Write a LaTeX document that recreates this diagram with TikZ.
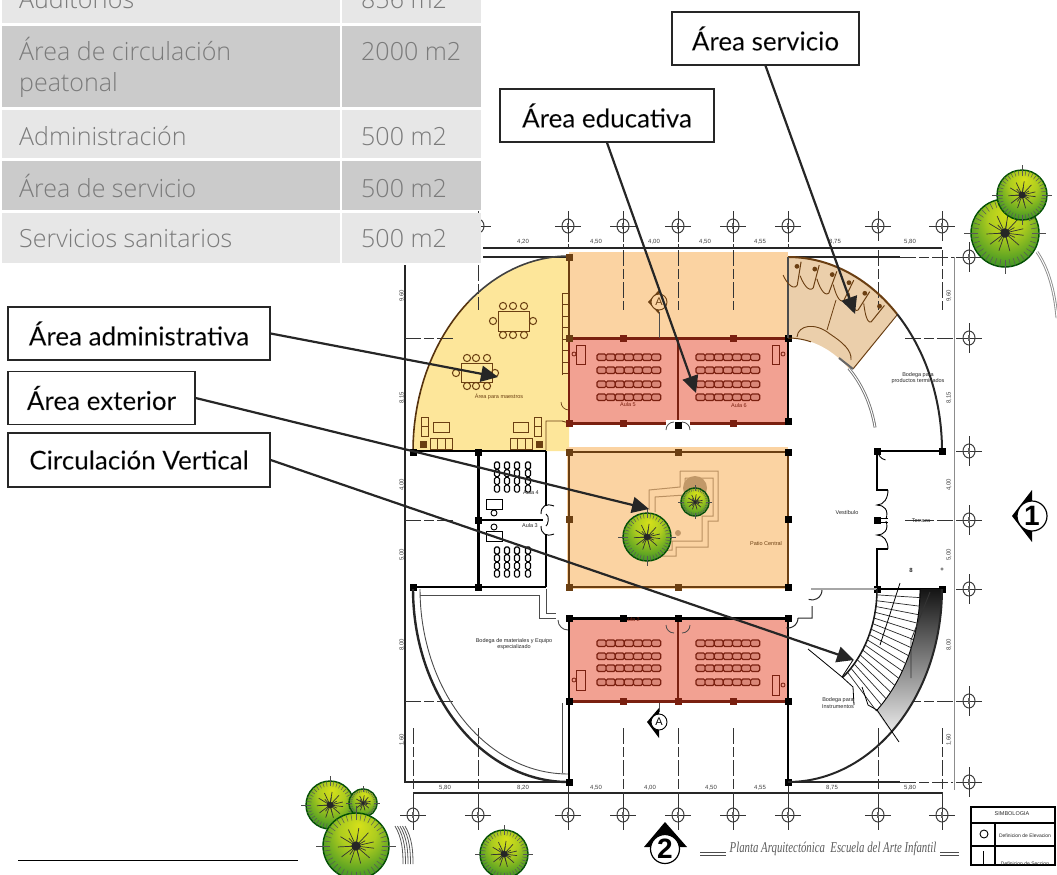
\documentclass[tikz,border=0pt]{standalone}
\usepackage{fontspec}
\usepackage{graphicx}
\usetikzlibrary{arrows.meta}
\setmainfont{Lato}
\newfontfamily\tabfont{Open Sans Light}
\newfontfamily\lblfont{Lato}[FakeBold=0.5]
\newfontfamily\planfont{Liberation Sans}
\newfontfamily\scriptf{Liberation Serif Italic}
\newcommand\halo{\special{pdf:code 0.5 G}}
\definecolor{tabA}{HTML}{E7E7E7}
\definecolor{tabB}{HTML}{CBCBCB}
\definecolor{tabT}{HTML}{7B7B7B}
\definecolor{orng}{HTML}{FBD3A2}
\definecolor{redr}{HTML}{F2A192}
\definecolor{ylw}{HTML}{FDE69A}
\definecolor{bge}{HTML}{EBCFAB}
\definecolor{dkred}{HTML}{7A2010}
\definecolor{brn}{HTML}{6B3F12}
\definecolor{ink}{HTML}{262626}
\pgfdeclareradialshading{treesh}{\pgfpoint{2bp}{16bp}}{rgb(0bp)=(.84,.88,.10);rgb(14bp)=(.68,.80,.12);rgb(28bp)=(.32,.62,.14);rgb(42bp)=(.06,.46,.18);rgb(50bp)=(.0,.34,.18)}
\newcommand\planttree[3]{\begin{scope}[shift={(#1,#2)}]
\shade[shading=treesh] (0,0) circle[radius=#3];
\draw[line width=1.4pt,color=black!55!green!70!black] (0,0) circle[radius=#3];
\foreach \a in {0,9,...,351}{\draw[line width=.5pt,black!65] (\a:{#3*.78}) -- (\a:{#3});}
\foreach \a in {7,41,...,360}{\draw[line width=.7pt,black!80] (\a:{#3*.1}) -- (\a:{#3*.55});}
\foreach \a in {24,75,...,360}{\draw[line width=.7pt,black!80] (\a:{#3*.1}) -- (\a:{#3*.32});}
\fill[black!85] (0,0) circle[radius={#3*.14}];
\foreach \a in {0,90,180,270}{\draw[line width=.6pt,black!70] (\a:{#3}) -- (\a:{#3*1.2});}
\end{scope}}
\newcommand\gridbub[2]{\draw[line width=.9pt,black!80] (#1-13,#2)--(#1+13,#2) (#1,#2-15)--(#1,#2+15);
\draw[line width=1pt,black!75] (#1,#2) ellipse[x radius=6,y radius=7];
\draw[line width=1.6pt,black!60] (#1,#2-3)--(#1,#2+3);}
\newcommand\csq[2]{\fill[black] (#1-3.5,#2-3.5) rectangle ++(7,7);}
\newcommand\bsq[2]{\fill[brn] (#1-3.5,#2-3.5) rectangle ++(7,7);}
\newcommand\rsq[2]{\fill[dkred] (#1-3.5,#2-3.5) rectangle ++(7,7);}
\newcommand\seatrow[2]{\foreach \i in {0,...,6}{\draw[seatb] ({#1+9.1*\i},#2-3) rectangle ++(9.1,6.5);}}
\newcommand\vseats[3]{\foreach \j in {#2,#3}{\foreach \k in {0,1,2,3}{\draw[seatk] (#1-2.5,{\j+7.7*\k}) rectangle ++(5,7);}}}
\tikzset{
 seatb/.style={draw=dkred,fill=redr!80!dkred,line width=1.2pt,rounded corners=1.5pt},
 seatk/.style={draw=black,fill=white,line width=1.1pt,rounded corners=1.5pt},
 wall/.style={line width=2.2pt,black},
 dimline/.style={line width=1.2pt,black!85},
 gridline/.style={line width=.9pt,black!80,dash pattern=on 16pt off 3pt on 10pt off 3pt},
 lbl/.style={draw=ink,line width=1.4pt,fill=white,inner sep=0pt,text=black,font=\lblfont\fontsize{26}{27}\selectfont},
 arr/.style={draw=ink,line width=2.2pt,-{Triangle[length=17pt,width=16pt]}},
 cell/.style={anchor=base west,inner sep=0pt,text=tabT,font=\tabfont\fontsize{25}{29}\selectfont},
 planlab/.style={inner sep=0pt,text=black!85,font=\planfont\fontsize{5.5}{6.5}\selectfont,align=center},
 dimlab/.style={inner sep=0pt,text=black!75,font=\planfont\fontsize{6}{6}\selectfont},
 furn/.style={draw=brn,line width=1pt,fill=none},
}
\begin{document}
\begin{tikzpicture}[x=1pt,y=-1pt]
\useasboundingbox (0,0) rectangle (1057,875);
% area colours
\fill[ylw] (569,257) -- plot[domain=-90:-180,samples=40] ({569+156*cos(\x)},{451+195*sin(\x)}) -- (569,451) -- cycle;
\fill[orng] (569,252) rectangle (788,338);
\fill[redr] (569,338) rectangle (788,423);
\fill[orng] (567,447) rectangle (788,589);
\fill[redr] (569,618) rectangle (788,703);
\fill[bge] (788,257) -- plot[domain=-90:-45,samples=30] ({788+154*cos(\x)},{451+194*sin(\x)}) -- (853,369) -- plot[domain=-47:-90,samples=30] ({788+89*cos(\x)},{451+113*sin(\x)}) -- cycle;
% grid lines
\foreach \gx in {568,623,678,733,788,878,942}{\gridbub{\gx}{226}}
\gridbub{478}{226}
\foreach \gx in {413,478,568,623,678,733,788,878,942}{\gridbub{\gx}{815}}
\foreach \gy in {257,338,451,520,589,701,782}{\gridbub{969}{\gy}}
\draw[dimline] (483,248) -- (942,248);
\draw[dimline] (483,257) -- (569,257);
\draw[dimline] (788,257) -- (900,257);
\draw[gridline] (900,257) -- (955,257);
\draw[line width=1pt,black!45] (954,257) -- (954,790);
\draw[dimline] (405,265) -- (405,782) -- (568,782);
\draw[dimline] (788,782) -- (900,782);
\draw[gridline] (900,782) -- (953,782);
\draw[dimline] (413,793) -- (942,793);
\foreach \gx in {623,678,733,878,942}{\draw[gridline] (\gx,250) -- (\gx,310);}
\draw[gridline] (478,265) -- (478,310);
\foreach \gx in {413,478,623,678,733,878,942}{\draw[gridline] (\gx,728) -- (\gx,808);}
\draw[gridline] (568,785) -- (568,808);
\draw[gridline] (788,785) -- (788,808);
\foreach \gx in {568,623,678,733,788}{\draw[line width=.9pt,black!80,dash pattern=on 4pt off 2pt] (\gx,248) -- (\gx,214);}
\foreach \gy in {338,520,701}{\draw[gridline] (405,\gy) -- (453,\gy); \draw[gridline] (905,\gy) -- (953,\gy);}
% dims
\foreach \tx/\tt in {523/{4,20},596/{4,50},654/{4,00},705/{4,50},760/{4,55},835/{8,75},910/{5,80}}{\node[dimlab] at (\tx,242) {\tt};}
\foreach \tx/\tt in {445/{5,80},523/{8,20},596/{4,50},650/{4,00},711/{4,50},760/{4,55},832/{8,75},910/{5,80}}{\node[dimlab] at (\tx,788) {\tt};}
\foreach \ty/\tt in {296/{9,60},398/{8,15},485/{4,00},555/{5,00},645/{8,00},740/{1,60}}{\node[dimlab,rotate=90] at (402,\ty) {\tt};\node[dimlab,rotate=90] at (949,\ty) {\tt};}
% yellow room
\draw[line width=1.6pt,black!75] plot[domain=-90:-130,samples=20] ({569+156*cos(\x)},{451+195*sin(\x)});
\draw[line width=1.6pt,brn!80!black] plot[domain=-130:-180,samples=20] ({569+156*cos(\x)},{451+195*sin(\x)});
\draw[line width=1.8pt,brn] (569,257) -- (569,338);
\foreach \j in {0,1,...,7}{\draw[line width=.7pt,brn] (562,{293+11.5*\j}) -- (568,{293+11.5*\j});}
\draw[line width=.7pt,brn] (562,293) -- (562,375);
\draw[furn] (498,311) rectangle (529,331);
\foreach \a in {503,513,524}{\draw[furn] (\a,306) circle[radius=3.6]; \draw[furn] (\a,335) circle[radius=3.6];}
\draw[furn] (493,321) circle[radius=3.6];\draw[furn] (533,321) circle[radius=3.6];
\draw[furn] (461,363) rectangle (492,382);
\foreach \a in {467,476,487}{\draw[furn] (\a,358) circle[radius=3.6]; \draw[furn] (\a,386) circle[radius=3.6];}
\draw[furn] (456,373) circle[radius=3.6];\draw[furn] (495,373) circle[radius=3.6];
\draw[furn] (433,422) rectangle (449,432);\draw[furn] (513,422) rectangle (528,432);
\draw[furn] (430,438) rectangle (452,449);\draw[furn] (510,438) rectangle (532,449);
\foreach \a in {437,445,517,525}{\draw[furn] (\a,438) -- (\a,449);}
\draw[furn] (421,417) rectangle (428,436);\draw[furn] (534,417) rectangle (541,436);
\draw[furn] (421,426) -- (428,426) (534,426) -- (541,426);
\bsq{423}{444}\bsq{539}{444}
\draw[line width=.9pt,brn] (546,450) -- (546,421) -- (562,421) -- (569,423);
\draw[line width=.7pt,brn] (569,410) arc[start angle=90,end angle=180,radius=8];
\node[planlab,text=brn] (lmaes) at (499,397) {Área para maestros};
% classroom walls
\draw[line width=3pt,dkred] (569,338) -- (788,338);
\draw[line width=3pt,dkred] (569,423) -- (788,423);
\draw[line width=1.8pt,dkred] (569,338) -- (569,423);
\draw[line width=1.6pt,dkred] (678,338) -- (678,423);
\draw[wall] (788,338) -- (788,423);
\seatrow{597}{357}\seatrow{597}{370}\seatrow{597}{384}\seatrow{597}{397}
\seatrow{696}{357}\seatrow{696}{370}\seatrow{696}{384}\seatrow{696}{397}
\draw[line width=.8pt,dkred] (576,345) rectangle (585,364);\draw[line width=.8pt,dkred] (574,354) circle[radius=2];
\draw[line width=.8pt,dkred] (772,345) rectangle (779,364);\draw[line width=.8pt,dkred] (783,354) circle[radius=2];
\node[planlab,text=dkred] (lau5) at (628,405) {Aula 5};
\node[planlab,text=dkred] (lau6) at (739,406) {Aula 6};
\fill[white] (666,420) rectangle (690,425);
\draw[line width=.8pt,black!70] (666,430) arc[start angle=180,end angle=270,radius=8] (690,430) arc[start angle=0,end angle=-90,radius=8];
\foreach \p/\q in {623/338,733/338,569/423,623/423,733/423}{\rsq{\p}{\q}}
\csq{678}{425}\csq{788}{338}\csq{788}{421}\bsq{569}{257}\bsq{569}{338}
\draw[line width=1.2pt,brn] (569,452) rectangle (788,587);
\foreach \p/\q in {569/452,678/452,569/519,569/587,678/587}{\bsq{\p}{\q}}
\csq{788}{452}\csq{788}{519}\csq{788}{587}
% patio stepped beds
\draw[line width=1pt,brn!45!orng] (680,471) -- (718,471) -- (718,521) -- (708,521) -- (708,547) -- (676,547) -- (676,556) -- (660,556) (680,471) -- (680,487) -- (649,490) -- (649,510);
\draw[line width=1pt,brn!45!orng] (685,478) -- (713,478) -- (713,516) -- (702,516) -- (702,541) -- (672,541) -- (672,550) -- (660,550) (685,478) -- (685,495) -- (655,497) -- (655,512);
\fill[brn!40!orng] (695,488) circle[radius=12];
\fill[brn!40!orng] (678,533) circle[radius=3];
\node[planlab,text=brn] (lpat) at (766,544) {Patio Central};
% left rooms
\draw[wall] (413,451) -- (546,451);
\draw[line width=3pt] (478,451) -- (478,587);
\draw[line width=2.4pt] (478,520) -- (546,520);
\draw[wall] (546,451) -- (546,505);\draw[wall] (546,535) -- (546,587);
\draw[wall] (413,587) -- (546,587);
\vseats{497}{462}{547}\vseats{507}{462}{547}\vseats{517}{462}{547}\vseats{528}{462}{547}
\draw[line width=.9pt] (486,499) rectangle (502,509);\draw[line width=.9pt] (486,531) rectangle (502,541);
\draw[line width=.9pt] (494,513) circle[radius=3];\draw[line width=.9pt] (494,527) circle[radius=3];
\node[planlab] (lau4) at (531,493) {Aula 4};
\node[planlab] (lau3) at (530,526) {Aula 3};
\fill[white] (543,506) rectangle (549,533);
\draw[line width=.9pt] (541,514) .. controls (541,506) and (546,503) .. (554,506);
\draw[line width=.9pt] (541,526) .. controls (541,534) and (546,537) .. (554,534);
\draw[line width=.9pt] (546,514) .. controls (550,516) and (548,525) .. (546,526);
\csq{413}{452}\csq{478}{452}\csq{478}{520}\csq{413}{587}\csq{478}{587}
% materials store
\draw[line width=2.4pt,black!85] plot[domain=180:90,samples=50] ({568+155*cos(\x)},{589+193*sin(\x)});
\draw[line width=.9pt,black!70] plot[domain=180:90,samples=50] ({568+148*cos(\x)},{589+185*sin(\x)});
\draw[line width=.9pt,black!70] (420,595) -- (539,595) -- (539,618) -- (556,618);
\draw[line width=.9pt,black!70] (546,589) -- (546,613) -- (556,613);
\draw[line width=.9pt,black!70] (568,630) arc[start angle=90,end angle=180,radius=10];
\node[planlab] (lmat) at (514,644) {Bodega de materiales y Equipo\\especializado};
% lower classrooms
\draw[line width=3pt] (569,618) -- (788,618);
\draw[line width=3pt,dkred] (569,701) -- (788,701);
\draw[line width=1.6pt,dkred] (678,618) -- (678,701);
\draw[wall] (569,618) -- (569,782);
\draw[wall] (788,618) -- (788,782);
\draw[line width=.9pt,black!70] (562,703) -- (562,773);
\seatrow{597}{643}\seatrow{597}{656}\seatrow{597}{668}\seatrow{597}{682}
\seatrow{696}{643}\seatrow{696}{656}\seatrow{696}{668}\seatrow{696}{682}
\draw[line width=.8pt,dkred] (576,670) rectangle (585,690);\draw[line width=.8pt,dkred] (574,680) circle[radius=2];
\draw[line width=.8pt,dkred] (772,675) rectangle (779,695);\draw[line width=.8pt,dkred] (783,685) circle[radius=2];
\node[planlab,text=dkred] (lau2) at (632,620) {Aula 2};
\draw[line width=.8pt,black!70] (666,625) arc[start angle=180,end angle=90,radius=8] (690,625) arc[start angle=0,end angle=90,radius=8];
\draw[line width=.7pt,black!70] (659,338) -- (659,312) (659,703) -- (659,712);
\foreach \p/\q in {623/701,678/701,733/701}{\rsq{\p}{\q}}
\csq{569}{701}\csq{788}{701}\csq{569}{618}\csq{623}{618}\csq{678}{618}\csq{788}{618}\csq{569}{782}\csq{788}{782}
% right arcs
\draw[line width=2pt,black!85] plot[domain=-45:0,samples=30] ({788+154*cos(\x)},{451+194*sin(\x)});
\draw[line width=.9pt,black!55,double=white,double distance=1pt] plot[domain=-47:-12,samples=25] ({788+89*cos(\x)},{451+113*sin(\x)});
\draw[line width=2pt,brn] plot[domain=-90:-45,samples=30] ({788+154*cos(\x)},{451+194*sin(\x)});
\draw[line width=1pt,brn] (897,315) -- (853,369);
\draw[line width=2pt,black!60] (839,358) -- (853,369);
\draw[line width=1pt,brn] plot[domain=-90:-75,samples=8] ({788+89*cos(\x)},{451+113*sin(\x)});
\draw[line width=1.3pt,black!70] (788,257) -- (788,338);
% fan of seats
\foreach \a in {-85,-78,...,-50}{
 \draw[line width=1pt,brn] ({788+150*cos(\a)},{451+190*sin(\a)}) -- ({788+132*cos(\a-1)},{451+166*sin(\a-1)});
 \draw[line width=.9pt,brn] ({788+132*cos(\a-1)},{451+166*sin(\a-1)}) .. controls ({788+130*cos(\a-3)},{451+160*sin(\a-3)}) and ({788+137*cos(\a-6)},{451+170*sin(\a-6)}) .. ({788+139*cos(\a-7)},{451+176*sin(\a-7)});
 \fill[brn] ({788+147*cos(\a-1.5)},{451+185*sin(\a-1.5)}) circle[radius=2.4];
}
\draw[line width=.8pt,brn] (836,300) -- (827,330);
\draw[line width=.9pt,brn] (797,337) .. controls (798,325) and (815,322) .. (830,334) .. controls (842,342) and (852,350) .. (851,360);
\node[planlab] (lprod) at (918,378) {Bodega para\\productos terminados};
% vestibule
\draw[wall] (877,451) -- (942,451);
\draw[wall] (877,451) -- (877,490) -- (888,490);
\draw[wall] (877,589) -- (877,549) -- (888,549);
\draw[line width=.9pt] (888,490) .. controls (888,498) and (884,505) .. (877,505) .. controls (884,505) and (889,510) .. (886,519);
\draw[line width=.9pt] (888,549) .. controls (888,541) and (884,535) .. (877,535) .. controls (884,535) and (889,530) .. (886,521);
\draw[line width=.9pt] (878,451) arc[start angle=180,end angle=100,radius=9];
\csq{877}{451}\csq{942}{451}\csq{877}{520}\csq{877}{589}\csq{942}{589}
\draw[line width=.9pt] (881,518) -- (888,518) (881,522) -- (888,522);
\node[planlab] (lves) at (847,512) {Vestíbulo};
\node[planlab] (lter) at (921,521) {Terraza};
\node[planlab,font=\planfont\bfseries\fontsize{6}{6}\selectfont] (l8) at (911,570) {8};
\node[planlab,font=\planfont\bfseries\fontsize{6}{6}\selectfont] (lpl) at (942,570) {+};
% stairs
\draw[line width=2pt,black!35] (811,589) -- (877,589);
\draw[wall] (877,589) -- (942,589);
\shade[top color=black!92,bottom color=black!8,shading angle=0] plot[domain=0:48,samples=30] ({788+132*cos(\x)},{589+164*sin(\x)}) -- plot[domain=48:0,samples=30] ({788+154*cos(\x)},{589+193*sin(\x)}) -- cycle;
\draw[line width=.9pt,black] plot[domain=0:48,samples=30] ({788+132*cos(\x)},{589+164*sin(\x)});
\draw[line width=2pt,black!85] plot[domain=0:90,samples=50] ({788+154*cos(\x)},{589+193*sin(\x)});
\draw[line width=1.6pt,black!90] plot[domain=0:52,samples=30] ({788+89*cos(\x)},{589+112*sin(\x)});
\foreach \a in {3,6,...,48}{\draw[line width=.7pt,black!85] ({788+89*cos(\a)},{589+112*sin(\a)}) -- ({788+132*cos(\a)},{589+164*sin(\a)});}
\draw[line width=.8pt,black] (900,583) -- (880,645);
\draw[line width=.9pt,black!80] (930,592) -- (911,640) -- (911,678);
\draw[line width=.8pt,black] (808,649) -- (842,677) -- (853,660) (842,677) -- (853,687) -- (854,705) (862,687) -- (868,705) -- (877,710) -- (899,742);
\node[planlab] (lins) at (838,703) {Bodega para\\Instrumentos};
\draw[line width=1pt,black!85] (822,590) arc[start angle=0,end angle=110,radius=10];
\draw[line width=1pt,black!85] (812,606) -- (812,618) -- (798,618) (798,618) arc[start angle=0,end angle=100,radius=10];
% section marks
\fill[brn] (659,290) -- (648,302) -- (659,314) -- cycle;
\draw[line width=.9pt,brn,fill=orng] (659,302) circle[radius=8];
\node[inner sep=0pt,text=brn,font=\planfont\fontsize{11}{11}\selectfont] (ma) at (659,302) {A};
\fill[black] (659,708) -- (647,722) -- (659,738) -- cycle;
\draw[line width=.9pt,fill=white] (659,722) circle[radius=8];
\node[inner sep=0pt,font=\planfont\fontsize{11}{11}\selectfont] (mb) at (659,722) {A};
\fill[black] (1032,490) -- (1012,516) -- (1032,542) -- cycle;
\draw[line width=1.2pt,fill=white] (1032,516) circle[radius=15];
\node[inner sep=0pt,font=\planfont\bfseries\fontsize{28}{28}\selectfont] (mk1) at (1032,516) {1};
\fill[black] (665,822) -- (644,847) -- (687,847) -- cycle;
\draw[line width=1.2pt,fill=white] (665,849) circle[radius=14.5];
\node[inner sep=0pt,font=\planfont\bfseries\fontsize{28}{28}\selectfont] (mk2) at (665,849) {2};
% title and legend
\draw[line width=.9pt,black!70] (700,852) -- (726,852) (700,855) -- (726,855) (940,852) -- (959,852) (940,855) -- (959,855);
\node[inner sep=0pt,text=black!65,font=\scriptf\fontsize{15}{15}\selectfont] (ttl) at (833,849) {\scalebox{.72}[1]{Planta Arquitectónica\ \ Escuela del Arte Infantil}};
\draw[line width=1.6pt] (971,807) rectangle (1055,865);
\draw[line width=2.4pt] (971,823) -- (1055,823) (971,846) -- (1055,846) (995,823) -- (995,865);
\node[planlab] (lega) at (1012,814) {SIMBOLOGIA};
\node[planlab,font=\planfont\fontsize{5}{5}\selectfont] (legb) at (1025,836) {Definicion de Elevacion};
\node[planlab,font=\planfont\fontsize{5}{5}\selectfont] (legc) at (1025,864) {Definicion de Seccion};
\draw[line width=.9pt] (984,834) circle[radius=4];
\draw[line width=.7pt] (983,851) -- (983,864);
\fill[white] (960,866) rectangle (1057,875);
% curved outline far right and small hatch bottom left
\draw[line width=.9pt,black!45,double=white,double distance=1pt] (1037,252) .. controls (1046,265) and (1054,285) .. (1057,318);
\foreach \q in {0,2.5,5,7.5,10}{\draw[line width=.8pt,black!65] (395+\q,826) .. controls (402+\q,838) and (403+\q,850) .. (403+\q,864);}
\draw[line width=.9pt] (18,860) -- (298,860);
% trees
\planttree{1005}{233}{34}
\planttree{1022}{195}{25}
\planttree{647}{537}{24}
\planttree{695}{502}{14}
\planttree{330}{805}{24}
\planttree{363}{803}{14}
\planttree{356}{846}{33}
\planttree{504}{854}{24}
% table
\fill[tabA] (2,-2) rectangle (340,23);\fill[tabA] (342,-2) rectangle (481,23);
\fill[tabB] (2,26) rectangle (340,107);\fill[tabB] (342,26) rectangle (481,107);
\fill[tabA] (2,110) rectangle (340,158);\fill[tabA] (342,110) rectangle (481,158);
\fill[tabB] (2,161) rectangle (340,210);\fill[tabB] (342,161) rectangle (481,210);
\fill[tabA] (2,213) rectangle (340,263);\fill[tabA] (342,213) rectangle (481,263);
\node[cell] (c1) at (19,9) {Auditorios};
\node[cell] (v1) at (361,9) {856 m2};
\node[cell] (c2) at (19,60) {Área de circulación};
\node[cell] (c2b) at (19,92) {peatonal};
\node[cell] (v2) at (361,60) {2000 m2};
\node[cell] (c3) at (19,145) {Administración};
\node[cell] (v3) at (361,145) {500 m2};
\node[cell] (c4) at (19,197) {Área de servicio};
\node[cell] (v4) at (361,197) {500 m2};
\node[cell] (c5) at (19,247) {Servicios sanitarios};
\node[cell] (v5) at (361,247) {500 m2};
% labels
\node[lbl,minimum width=187pt,minimum height=53pt] (serv) at (765.5,38.5) {\halo Área servicio};
\node[lbl,minimum width=214pt,minimum height=53pt] (edu) at (607,115.5) {\halo Área educativa};
\node[lbl,minimum width=262pt,minimum height=53pt] (adm) at (139,333.5) {\halo Área administrativa};
\node[lbl,minimum width=187pt,minimum height=53pt] (ext) at (101.5,398) {\halo Área exterior};
\node[lbl,minimum width=262pt,minimum height=54pt] (circ) at (139,460) {\halo Circulación Vertical};
\coordinate (tserv) at (855,314);
\coordinate (tedu) at (696,393);
\coordinate (tadm) at (498,377);
\coordinate (text) at (649,509);
\coordinate (tcirc) at (854,660);
\draw[arr] (serv.south) -- (tserv);
\draw[arr] (edu.south) -- (tedu);
\draw[arr] (adm.east) -- (tadm);
\draw[arr] (ext.east) -- (text);
\draw[arr] (circ.east) -- (tcirc);
\end{tikzpicture}
\end{document}
